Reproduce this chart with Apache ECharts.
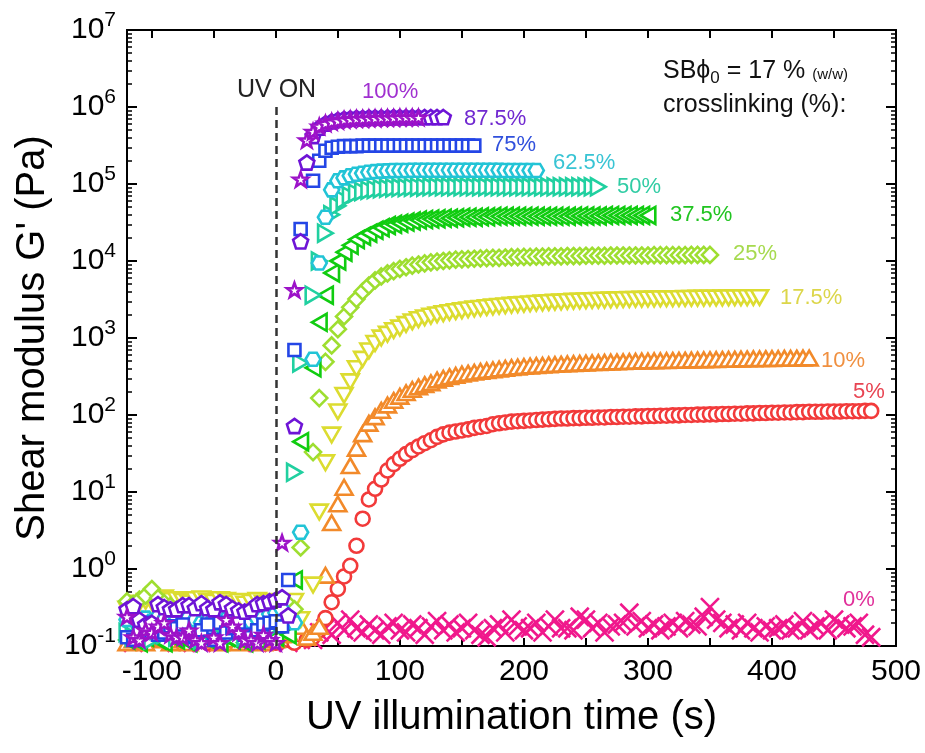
<!DOCTYPE html>
<html><head><meta charset="utf-8">
<script src="https://cdn.jsdelivr.net/npm/echarts@6/dist/echarts.min.js"></script>
<style>html,body{margin:0;padding:0;background:#fff}#c{width:925px;height:753px}</style>
</head><body><div id="c"></div>
<script>
// ---- sampling times (s) ----
const TIME = [-120,-115,-110,-105,-100,-95,-90,-85,-80,-75,
-70,-65,-60,-55,-50,-45,-40,-35,-30,-25,
-20,-15,-10,-5,0,5,10,15,20,25,
30,35,40,45,50,55,60,65,70,75,
80,85,90,95,100,105,110,115,120,125,
130,135,140,145,150,155,160,165,170,175,
180,185,190,195,200,205,210,215,220,225,
230,235,240,245,250,255,260,265,270,275,
280,285,290,295,300,305,310,315,320,325,
330,335,340,345,350,355,360,365,370,375,
380,385,390,395,400,405,410,415,420,425,
430,435,440,445,450,455,460,465,470,475,
480];

// ---- G' values (Pa), aligned with TIME ----
const g0 = [null,0.11,null,null,null,0.12,null,null,0.11,null,
null,null,0.11,null,null,null,0.12,null,null,null,
null,0.11,null,null,null,null,0.11,null,0.12,0.13,
0.12,0.15,0.17,0.14,0.2,0.16,0.22,0.17,0.15,0.19,
0.16,0.14,0.18,0.2,0.16,0.15,0.19,0.17,0.14,0.18,
0.21,0.16,0.19,0.15,0.17,0.2,0.16,0.14,0.13,0.17,
0.19,0.15,0.22,0.18,0.16,0.17,0.2,0.15,0.18,0.22,
0.17,0.17,0.16,0.24,0.22,0.17,0.2,0.15,0.18,0.19,
0.2,0.27,0.18,0.21,0.17,0.19,0.16,0.18,0.2,0.17,
0.21,0.19,0.18,0.24,0.32,0.22,0.2,0.17,0.19,0.16,
0.2,0.17,0.15,0.18,0.16,0.17,0.19,0.16,0.17,0.21,
0.16,0.18,0.2,0.16,0.22,0.19,0.17,0.18,0.2,0.14,
0.13];
const g5 = [null,0.11,null,null,0.12,null,null,0.11,null,null,
0.12,null,null,0.11,null,null,0.12,null,null,0.11,
null,null,0.12,null,0.11,0.13,0.12,0.11,0.14,0.12,
0.13,0.16,0.23,0.37,0.55,0.8,1.1,2,4.5,8,
11,14.5,19,23,27,31,35,39,43,47,
52,56,59,61,63,65,68,70,72,76,
78,80,82,83,84,85,86,87,88,89,
90,90,91,91,92,92,93,93,94,94,
95,95,96,96,97,97,98,98,99,99,
100,100,101,101,102,102,103,103,104,104,
105,105,106,106,107,107,108,108,109,109,
110,110,110,111,111,111,112,112,112,113,
113];
const g10 = [0.11,0.12,null,0.11,0.13,null,0.12,0.11,null,0.12,
0.11,null,0.13,0.12,null,0.11,0.12,null,0.11,0.13,
0.12,null,0.11,0.13,0.12,0.14,0.15,0.2,0.18,0.13,
0.15,0.18,0.83,4,7,11.5,22,37,57,78,
95,115,135,155,175,195,215,232,248,262,
285,300,315,328,340,350,360,370,378,386,
395,405,413,420,427,433,439,444,449,454,
458,462,466,470,474,478,481,484,487,490,
493,496,499,502,504,506,508,510,512,514,
516,518,520,522,524,526,528,530,532,534,
536,537,539,540,542,543,545,546,548,549,
550];
const g175 = [0.3,0.33,0.36,0.38,0.37,0.4,0.42,0.39,0.4,0.38,
0.36,0.4,0.41,0.38,0.37,0.4,0.39,0.36,0.38,0.35,
0.37,0.39,0.36,0.38,0.34,0.3,0.32,0.38,0.22,null,
0.62,5.5,24,55,110,180,270,400,530,680,
850,1000,1120,1250,1350,1500,1620,1730,1830,1920,
2000,2070,2140,2200,2260,2320,2380,2430,2480,2530,
2580,2620,2660,2700,2740,2780,2820,2850,2880,2910,
2940,2970,3000,3020,3040,3060,3080,3100,3120,3140,
3150,3160,3180,3190,3200,3210,3220,3230,3240,3250,
3260,3270,3280,3290,3300,3300,3310,3320,3330,3330,
3340,3350,3350];
const g25 = [0.38,0.35,0.4,0.45,0.55,0.42,0.36,0.33,0.3,0.28,
0.27,0.3,0.26,0.25,0.28,0.27,0.25,0.26,0.28,0.24,
0.25,0.27,0.24,0.26,0.28,0.3,0.35,0.3,1.9,null,
33,166,490,800,1300,1900,2500,3200,4000,4800,
5600,6300,6900,7400,7900,8300,8700,9000,9300,9600,
9800,10000,10200,10400,10500,10600,10700,10800,10900,11000,
11000,11100,11200,11200,11300,11300,11400,11400,11500,11500,
11500,11600,11600,11600,11700,11700,11700,11700,11800,11800,
11800,11800,11800,11800,11800,11900,11900,11900,11900,11900,
11900,12000,12000,12000,12000];
const g375 = [0.12,0.14,0.11,0.13,0.15,0.12,0.11,0.14,0.12,0.13,
0.11,0.13,0.15,0.12,0.14,0.11,0.13,0.12,0.14,0.11,
0.13,0.12,0.14,0.15,0.13,0.16,0.14,0.72,45,null,
410,1600,3600,7000,10000,13000,16000,19000,21000,23000,
25000,27000,29000,30000,31000,32000,33000,34000,34500,35000,
35500,36000,36000,36500,37000,37000,37000,37500,37500,38000,
38000,38000,38000,38000,38000,38000,38000,38000,38000,38000,
38000,38000,38500,38500,38500,38500,38500,39000,39000,39000,
39000,39000,39000,39000,39000];
const g50 = [0.15,0.13,0.17,0.14,0.12,0.16,0.14,0.18,0.13,0.15,
0.17,0.14,0.12,0.16,0.15,0.13,0.17,0.14,0.16,0.13,
0.15,0.17,0.14,0.16,0.18,0.2,0.24,18,475,null,
3600,10000,23000,40000,52000,62000,70000,76000,80000,83000,
85000,87000,88000,89000,90000,90000,91000,91000,91000,92000,
92000,92000,92000,92000,92000,92000,92000,92000,92000,92000,
92000,92000,92000,92000,92000,92000,92000,92000,92000,92000,
92000,92000,92000,92000,92000,92000,92000];
const g625 = [0.22,0.24,0.2,0.23,0.21,0.24,0.22,0.2,0.23,0.21,
0.24,0.22,0.2,0.21,0.23,0.25,0.22,0.2,0.24,0.22,
0.21,0.23,0.24,0.26,0.27,0.3,0.22,0.2,3,null,
530,9400,37000,84000,110000,120000,128000,134000,138000,142000,
145000,147000,148000,150000,150000,150000,151000,151000,151000,151000,
151000,151000,151000,151000,151000,151000,151000,151000,151000,151000,
151000,150000,150000,150000,150000,150000,150000];
const g75 = [0.13,0.12,0.15,0.2,0.17,0.14,0.15,0.18,0.17,0.19,
0.14,0.13,0.16,0.19,0.12,0.2,0.15,0.17,0.2,0.14,
0.13,0.16,0.19,0.2,0.21,0.18,0.72,700,26000,null,
110000,200000,270000,295000,305000,310000,310000,310000,315000,315000,
315000,315000,315000,315000,315000,315000,315000,315000,315000,315000,
315000,315000,315000,315000,315000,315000,315000];
const g875 = [0.3,0.33,0.22,0.19,0.2,0.35,0.32,0.3,0.3,0.34,
0.34,0.31,0.36,0.31,0.3,0.37,0.35,0.31,0.29,0.28,
0.3,0.35,0.36,0.38,0.4,0.43,0.25,72,18000,190000,
420000,540000,610000,650000,680000,700000,710000,720000,720000,730000,
730000,730000,730000,740000,740000,740000,740000,740000,740000,740000,
740000,740000];
const g100 = [0.24,0.13,0.12,0.16,0.15,0.18,0.2,0.14,0.13,0.13,
0.16,0.12,0.11,null,0.13,0.11,0.22,0.18,0.15,0.12,
0.12,0.11,0.14,0.12,0.11,2.2,null,4200,115000,370000,
480000,560000,610000,640000,660000,680000,690000,700000,700000,710000,
710000,720000,720000,720000,730000,730000,730000,730000];

// ---- axis ticks / labels ----
const X_LABELS = [-100,0,100,200,300,400,500];
const X_TICKS = [-100,-50,0,50,100,150,200,250,300,350,400,450,500];
const Y_MAJOR = [0.1,1,10,100,1000,1e4,1e5,1e6,1e7];
const Y_MINOR = [];
Y_MAJOR.slice(0,-1).forEach(d => { for (let k = 2; k <= 9; k++) Y_MINOR.push(+(d*k).toPrecision(3)); });

// ---- series names / labels ----
const NAMES = ['0%','5%','10%','17.5%','25%','37.5%','50%','62.5%','75%','87.5%','100%'];

const FONT = "'Liberation Sans', Arial, Helvetica, sans-serif";

function pts(g){ const out=[]; g.forEach((v,i)=>{ if(v!==null && v!==undefined) out.push([TIME[i], v]); }); return out; }

const P = {
  star: 'path://M0,-10 L2.35,-3.24 L9.51,-3.09 L3.8,1.24 L5.88,8.09 L0,4 L-5.88,8.09 L-3.8,1.24 L-9.51,-3.09 L-2.35,-3.24 Z',
  pent: 'path://M0,-10 L9.51,-3.09 L5.88,8.09 L-5.88,8.09 L-9.51,-3.09 Z',
  hex: 'path://M-10,0 L-5,-8.66 L5,-8.66 L10,0 L5,8.66 L-5,8.66 Z',
  up: 'path://M0,-10 L8.66,5 L-8.66,5 Z',
  down: 'path://M0,10 L8.66,-5 L-8.66,-5 Z',
  right: 'path://M10,0 L-5,8.66 L-5,-8.66 Z',
  left: 'path://M-10,0 L5,-8.66 L5,8.66 Z',
  cross: 'path://M-10,-10 L10,10 M10,-10 L-10,10'
};

const C = {
  c0:'#f0188c', c5:'#f23a3a', c10:'#f28a2a', c175:'#dcdc30', c25:'#9ede30',
  c375:'#10cc10', c50:'#20d0a0', c625:'#22c4d6', c75:'#2446e6', c875:'#6e14d6', c100:'#9c12c8'
};

function sc(name, g, symbol, size, color, extra){
  return Object.assign({
    type:'scatter', name:name, data:pts(g), symbol:symbol, symbolSize:size,
    symbolKeepAspect:true, silent:true, clip:true,
    itemStyle:{color:'#ffffff', borderColor:color, borderWidth:2.6, opacity:1},
    emphasis:{disabled:true}, xAxisIndex:0, yAxisIndex:0
  }, extra||{});
}

const series = [
  sc(NAMES[0], g0, P.cross, 18, C.c0, {
    markLine:{silent:true, symbol:'none', label:{show:false},
      lineStyle:{color:'#333', width:2.5, type:[8,5]},
      data:[[{coord:[0,1e6]},{coord:[0,0.1]}]]}
  }),
  sc(NAMES[1], g5, 'circle', 14, C.c5),
  sc(NAMES[2], g10, P.up, 17, C.c10),
  sc(NAMES[3], g175, P.down, 17, C.c175),
  sc(NAMES[4], g25, 'diamond', 16, C.c25),
  sc(NAMES[5], g375, P.left, 17, C.c375),
  sc(NAMES[6], g50, P.right, 17, C.c50),
  sc(NAMES[7], g625, P.hex, 15, C.c625),
  sc(NAMES[8], g75, 'rect', 12, C.c75),
  sc(NAMES[9], g875, P.pent, 15, C.c875),
  sc(NAMES[10], g100, P.star, 15, C.c100)
];

const axisLineStyle = {color:'#000', width:2};
const yBase = {type:'log', logBase:10, min:0.1, max:1e7, splitLine:{show:false}, axisLine:{show:true, onZero:false, lineStyle:axisLineStyle}};

const option = {
  animation:false,
  backgroundColor:'#ffffff',
  grid:{left:127, right:29, top:30, bottom:107, containLabel:false},
  xAxis:[
    {type:'value', min:-120, max:500, position:'bottom',
     axisLine:{show:true, onZero:false, lineStyle:axisLineStyle},
     axisTick:{show:true, inside:true, length:8, customValues:X_TICKS, lineStyle:{color:'#000', width:2}},
     axisLabel:{show:true, customValues:X_LABELS, fontSize:30, color:'#000', fontFamily:FONT, margin:11},
     splitLine:{show:false},
     name:'UV illumination time (s)', nameLocation:'middle', nameGap:52,
     nameTextStyle:{fontSize:40, color:'#000', fontFamily:FONT, verticalAlign:'top'}},
    {type:'value', min:-120, max:500, position:'top',
     axisLine:{show:true, onZero:false, lineStyle:axisLineStyle},
     axisTick:{show:true, inside:true, length:8, customValues:X_TICKS, lineStyle:{color:'#000', width:2}},
     axisLabel:{show:false}, splitLine:{show:false}}
  ],
  yAxis:[
    Object.assign({}, yBase, {position:'left',
      axisTick:{show:true, inside:true, length:10, customValues:Y_MAJOR, lineStyle:{color:'#000', width:2}},
      axisLabel:{show:true, customValues:Y_MAJOR, margin:11, color:'#000', fontFamily:FONT,
        formatter:function(v){ const e = Math.round(Math.log10(v)); return '{b|10}{e|' + e + '}'; },
        rich:{ b:{fontSize:30, fontFamily:FONT, color:'#000'}, e:{fontSize:21, fontFamily:FONT, color:'#000', padding:[0,0,20,0]} }},
      name:"Shear modulus G' (Pa)", nameLocation:'middle', nameGap:72,
      nameTextStyle:{fontSize:40, color:'#000', fontFamily:FONT}}),
    Object.assign({}, yBase, {position:'left',
      axisTick:{show:true, inside:true, length:5, customValues:Y_MINOR, lineStyle:{color:'#000', width:1.5}},
      axisLabel:{show:false}}),
    Object.assign({}, yBase, {position:'right',
      axisTick:{show:true, inside:true, length:10, customValues:Y_MAJOR, lineStyle:{color:'#000', width:2}},
      axisLabel:{show:false}}),
    Object.assign({}, yBase, {position:'right',
      axisTick:{show:true, inside:true, length:5, customValues:Y_MINOR, lineStyle:{color:'#000', width:1.5}},
      axisLabel:{show:false}})
  ],
  series: series,
  graphic:[
    {type:'text', x:237, y:90, style:{text:'UV ON', fontSize:25, fontFamily:FONT, fill:'#222', align:'left', verticalAlign:'middle'}},
    {type:'text', x:663, y:71, style:{text:'{a|SB\u03d5}{sub|0}{a| = 17 % }{s|(w/w)}', align:'left', verticalAlign:'middle',
      rich:{a:{fontSize:25, fontFamily:FONT, fill:'#111'}, sub:{fontSize:17, fontFamily:FONT, fill:'#111', padding:[14,0,0,0]}, s:{fontSize:15, fontFamily:FONT, fill:'#111', padding:[7,0,0,0]}}}},
    {type:'text', x:663, y:105, style:{text:'crosslinking (%):', fontSize:25, fontFamily:FONT, fill:'#111', align:'left', verticalAlign:'middle'}},
    {type:'text', x:362, y:92, style:{text:NAMES[10], fontSize:22, fontFamily:FONT, fill:'#a030d0', align:'left', verticalAlign:'middle'}},
    {type:'text', x:464, y:119, style:{text:NAMES[9], fontSize:22, fontFamily:FONT, fill:'#7028d0', align:'left', verticalAlign:'middle'}},
    {type:'text', x:492, y:145, style:{text:NAMES[8], fontSize:22, fontFamily:FONT, fill:'#3050dc', align:'left', verticalAlign:'middle'}},
    {type:'text', x:553, y:163, style:{text:NAMES[7], fontSize:22, fontFamily:FONT, fill:'#38c4d4', align:'left', verticalAlign:'middle'}},
    {type:'text', x:617, y:187, style:{text:NAMES[6], fontSize:22, fontFamily:FONT, fill:'#30cca4', align:'left', verticalAlign:'middle'}},
    {type:'text', x:670, y:215, style:{text:NAMES[5], fontSize:22, fontFamily:FONT, fill:'#20c420', align:'left', verticalAlign:'middle'}},
    {type:'text', x:733, y:254, style:{text:NAMES[4], fontSize:22, fontFamily:FONT, fill:'#a6da4e', align:'left', verticalAlign:'middle'}},
    {type:'text', x:780, y:298, style:{text:NAMES[3], fontSize:22, fontFamily:FONT, fill:'#dcd64a', align:'left', verticalAlign:'middle'}},
    {type:'text', x:821, y:361, style:{text:NAMES[2], fontSize:22, fontFamily:FONT, fill:'#f09040', align:'left', verticalAlign:'middle'}},
    {type:'text', x:853, y:392, style:{text:NAMES[1], fontSize:22, fontFamily:FONT, fill:'#e84452', align:'left', verticalAlign:'middle'}},
    {type:'text', x:843, y:600, style:{text:NAMES[0], fontSize:22, fontFamily:FONT, fill:'#e0309a', align:'left', verticalAlign:'middle'}}
  ]
};

const chart = echarts.init(document.getElementById('c'), null, {renderer:'canvas'});
chart.setOption(option);
</script>
</body></html>
